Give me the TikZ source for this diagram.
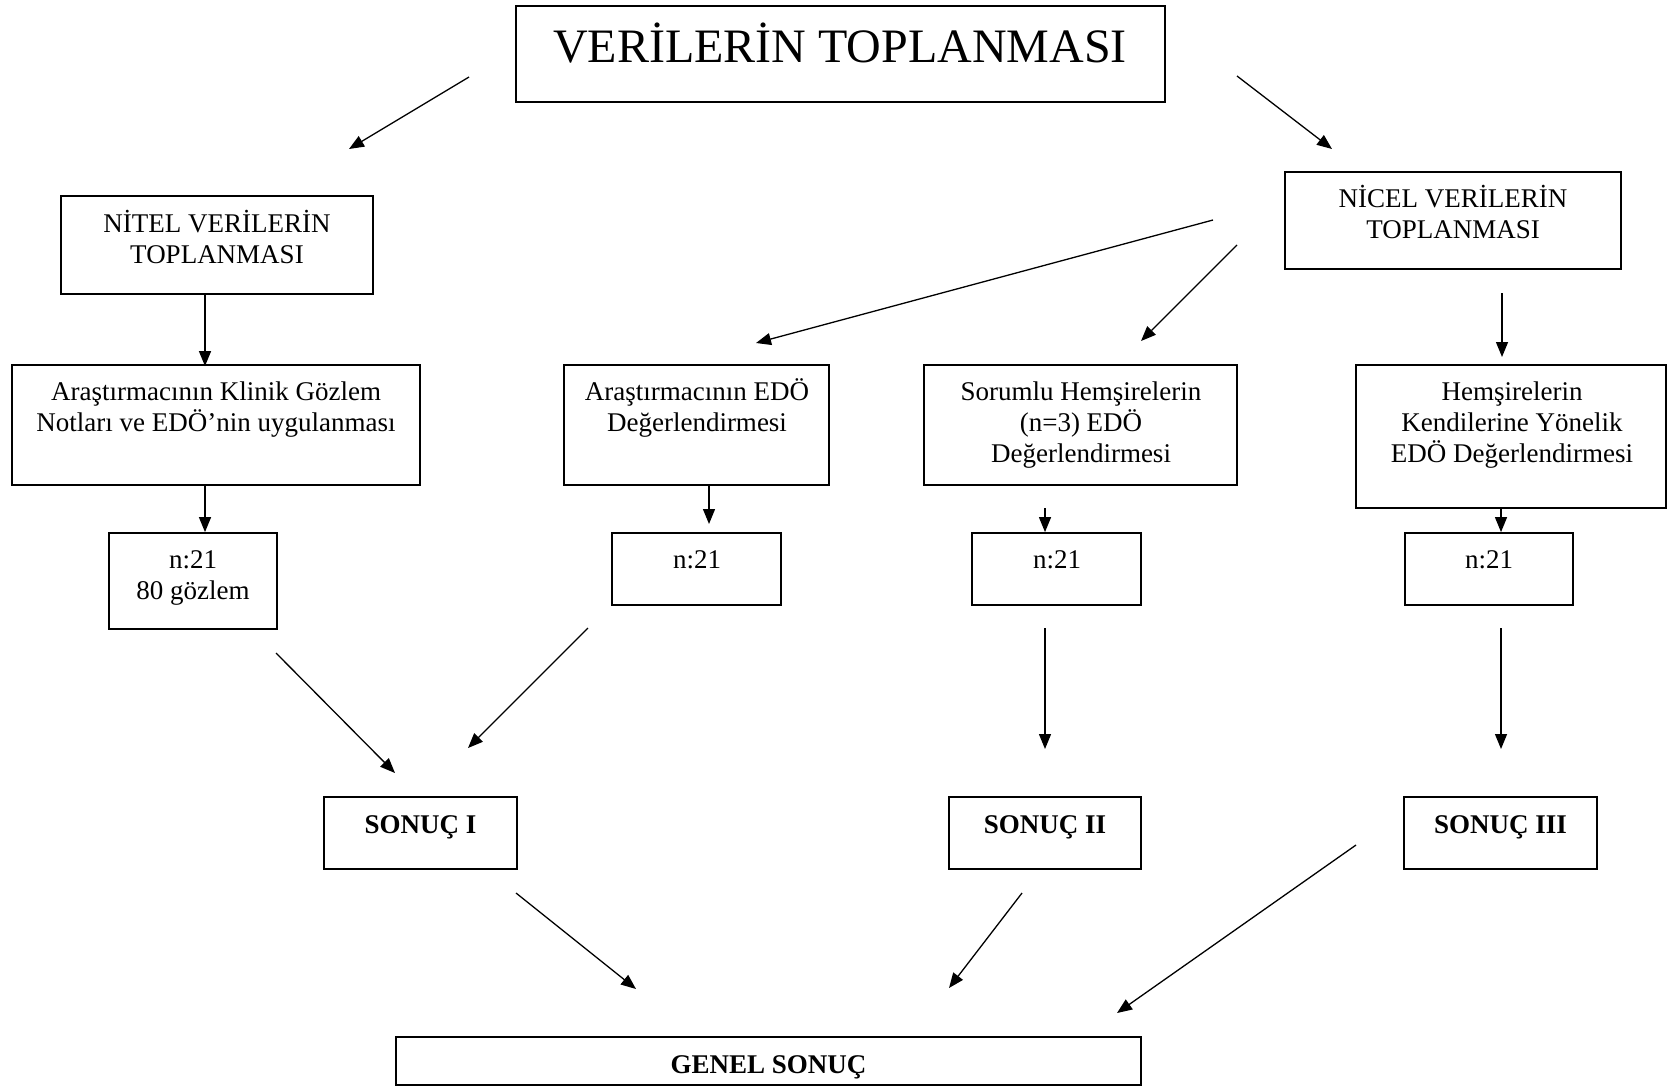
\documentclass[tikz,border=0pt]{standalone}
\usepackage{fontspec}
\setmainfont{Liberation Serif}
\usetikzlibrary{arrows.meta}
\begin{document}
\begin{tikzpicture}[x=0.5pt,y=-0.5pt,
  box/.style={draw, line width=0.9pt, inner sep=0pt, rectangle},
  txt/.style={align=center, inner sep=0pt, anchor=base, font=\fontsize{13.5}{15.5}\selectfont},
  btxt/.style={inner sep=0pt, anchor=base, font=\fontsize{13.5}{15.5}\selectfont\bfseries},
  arr/.style={-{Triangle[length=7.5pt,width=6pt]}, line width=0.65pt}]
\useasboundingbox (0,0) rectangle (1668,1087);
% boxes
\node[box, minimum width=324.5pt, minimum height=48pt] (top) at (840.5,54) {};
\node[box, minimum width=156pt, minimum height=49pt] (nitel) at (217,245) {};
\node[box, minimum width=168pt, minimum height=48.5pt] (nicel) at (1453,220.5) {};
\node[box, minimum width=204pt, minimum height=60pt] (klinik) at (216,425) {};
\node[box, minimum width=132.5pt, minimum height=60pt] (edo) at (696.5,425) {};
\node[box, minimum width=156.5pt, minimum height=60pt] (sorumlu) at (1080.5,425) {};
\node[box, minimum width=155pt, minimum height=71.5pt] (hems) at (1511,436.5) {};
\node[box, minimum width=84pt, minimum height=48pt] (n1) at (193,581) {};
\node[box, minimum width=84.5pt, minimum height=36pt] (n2) at (696.5,569) {};
\node[box, minimum width=84.5pt, minimum height=36pt] (n3) at (1056.5,569) {};
\node[box, minimum width=84pt, minimum height=36pt] (n4) at (1489,569) {};
\node[box, minimum width=96.5pt, minimum height=36pt] (s1) at (420.5,833) {};
\node[box, minimum width=96pt, minimum height=36pt] (s2) at (1045,833) {};
\node[box, minimum width=96.5pt, minimum height=36pt] (s3) at (1500.5,833) {};
\node[box, minimum width=372.5pt, minimum height=24pt] (genel) at (768.5,1061) {};
% texts (base = baseline of last line)
\node[inner sep=0pt, anchor=base, font=\fontsize{24}{28}\selectfont] (topt) at (840,62) {VERİLERİN TOPLANMASI};
\node[txt] (nitelt) at (217,263) {NİTEL VERİLERİN\\TOPLANMASI};
\node[txt] (nicelt) at (1453,238) {NİCEL VERİLERİN\\TOPLANMASI};
\node[txt] (klinikt) at (216,431) {Araştırmacının Klinik Gözlem\\Notları ve EDÖ’nin uygulanması};
\node[txt] (edot) at (697,431) {Araştırmacının EDÖ\\Değerlendirmesi};
\node[txt] (sorumlut) at (1081,462) {Sorumlu Hemşirelerin\\(n=3) EDÖ\\Değerlendirmesi};
\node[txt] (hemst) at (1512,462) {Hemşirelerin\\Kendilerine Yönelik\\EDÖ Değerlendirmesi};
\node[txt] (n1t) at (193,599) {n:21\\80 gözlem};
\node[txt] (n2t) at (697,568) {n:21};
\node[txt] (n3t) at (1057,568) {n:21};
\node[txt] (n4t) at (1489,568) {n:21};
\node[btxt] (s1t) at (420.5,833) {SONUÇ I};
\node[btxt] (s2t) at (1045,833) {SONUÇ II};
\node[btxt] (s3t) at (1500.5,833) {SONUÇ III};
\node[btxt] (genelt) at (768.5,1073) {GENEL SONUÇ};
% connector end points
\coordinate (a1s) at (469,77);   \coordinate (a1e) at (349,149);
\coordinate (a2s) at (1237,76);  \coordinate (a2e) at (1332,149);
\coordinate (a3) at (205,0);
\coordinate (a4s) at (1213,220); \coordinate (a4e) at (756,343);
\coordinate (a5s) at (1237,245); \coordinate (a5e) at (1141,341);
\coordinate (a6s) at (1502,293); \coordinate (a6e) at (1502,357);
\coordinate (a7) at (205,0);
\coordinate (a8) at (709,0);     \coordinate (a8e) at (709,524);
\coordinate (a9s) at (1045,508);
\coordinate (a10) at (1501,0);
\coordinate (a11s) at (276,653); \coordinate (a11e) at (395,773);
\coordinate (a12s) at (588,628); \coordinate (a12e) at (468,748);
\coordinate (a13s) at (1045,628); \coordinate (a13e) at (1045,749);
\coordinate (a14s) at (1501,628); \coordinate (a14e) at (1501,749);
\coordinate (a15s) at (516,893); \coordinate (a15e) at (636,989);
\coordinate (a16s) at (1022,893); \coordinate (a16e) at (949,988);
\coordinate (a17s) at (1356,845); \coordinate (a17e) at (1117,1013);
% connectors
\draw[arr] (a1s) -- (a1e);
\draw[arr] (a2s) -- (a2e);
\draw[arr] (nitel.south -| a3) -- ([yshift=-1pt]klinik.north -| a3);
\draw[arr] (a4s) -- (a4e);
\draw[arr] (a5s) -- (a5e);
\draw[arr] (a6s) -- (a6e);
\draw[arr] (klinik.south -| a7) -- (n1.north -| a7);
\draw[arr] (edo.south -| a8) -- (a8e);
\draw[arr] (a9s) -- (n3.north -| a9s);
\draw[arr] (hems.south -| a10) -- (n4.north -| a10);
\draw[arr] (a11s) -- (a11e);
\draw[arr] (a12s) -- (a12e);
\draw[arr] (a13s) -- (a13e);
\draw[arr] (a14s) -- (a14e);
\draw[arr] (a15s) -- (a15e);
\draw[arr] (a16s) -- (a16e);
\draw[arr] (a17s) -- (a17e);
\end{tikzpicture}
\end{document}
